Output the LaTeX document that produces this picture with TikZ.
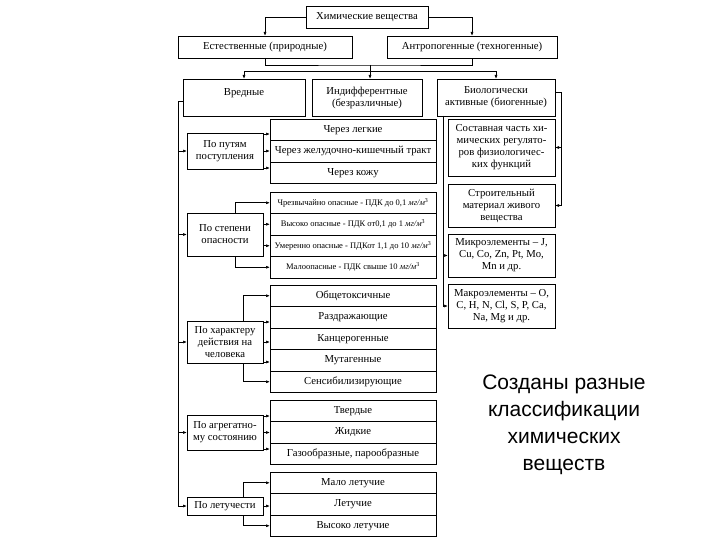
\documentclass[tikz,border=0pt]{standalone}
\usepackage{fontspec}
\setmainfont{Liberation Serif}
\newfontfamily\notefont{Liberation Sans}
\usetikzlibrary{arrows.meta, positioning}
\tikzset{
    block/.style={rectangle, draw, align=center, inner sep=1pt, outer sep=0pt, anchor=north west, font=\fontsize{10.7}{12}\selectfont},
    groupbox/.style={block, minimum width=76pt},
    rowbox/.style={block, minimum width=166pt, minimum height=21.5pt},
    smallrow/.style={rowbox, font=\fontsize{8.5}{10}\selectfont},
    biobox/.style={block, minimum width=107pt},
    arrow/.style={-{Latex[length=4pt,width=3pt]}},
}
\newcommand{\mgm}{\textit{мг/м}\textsuperscript{3}}

\begin{document}
\begin{tikzpicture}[x=1pt, y=-1pt, line width=0.7pt, node distance=0pt]
    \useasboundingbox (0,0) rectangle (720,540);

    % Top levels
    \node[block, minimum width=122pt, minimum height=22pt] (chem) at (306,6) {Химические вещества};
    \node[block, minimum width=174pt, minimum height=22pt] (natural) at (178,36) {Естественные (природные)};
    \node[block, minimum width=170pt, minimum height=22pt] (anthro) at (387,36) {Антропогенные (техногенные)};
    \node[block, minimum width=122pt, minimum height=37pt] (harm) at (183,79) {Вредные\\~};
    \node[block, minimum width=110pt, minimum height=37pt] (indiff) at (312,79) {Индифферентные\\(безразличные)};
    \node[block, minimum width=118pt, minimum height=37pt] (bio) at (437,79) {Биологически\\активные (биогенные)};

    % Classification boxes
    \node[groupbox, minimum height=36pt] (route) at (187,133) {По путям\\поступления};
    \node[groupbox, minimum height=43pt] (danger) at (187,213) {По степени\\опасности};
    \node[groupbox, minimum height=42pt] (effect) at (187,321) {По характеру\\действия на\\человека};
    \node[groupbox, minimum height=35pt] (state) at (187,415) {По агрегатно-\\му состоянию};
    \node[groupbox, minimum height=18pt] (volat) at (187,497) {По летучести};

    % Rows
    \node[rowbox] (route1) at (270,119) {Через легкие};
    \node[rowbox, below=of route1] (route2) {Через желудочно-кишечный тракт};
    \node[rowbox, below=of route2] (route3) {Через кожу};

    \node[smallrow] (danger1) at (270,192) {Чрезвычайно опасные - ПДК до 0,1 \mgm};
    \node[smallrow, below=of danger1] (danger2) {Высоко опасные - ПДК от0,1 до 1 \mgm};
    \node[smallrow, below=of danger2] (danger3) {Умеренно опасные - ПДКот 1,1 до 10 \mgm};
    \node[smallrow, below=of danger3] (danger4) {Малоопасные - ПДК свыше 10 \mgm};

    \node[rowbox] (effect1) at (270,285) {Общетоксичные};
    \node[rowbox, below=of effect1] (effect2) {Раздражающие};
    \node[rowbox, below=of effect2] (effect3) {Канцерогенные};
    \node[rowbox, below=of effect3] (effect4) {Мутагенные};
    \node[rowbox, below=of effect4] (effect5) {Сенсибилизирующие};

    \node[rowbox] (state1) at (270,400) {Твердые};
    \node[rowbox, below=of state1] (state2) {Жидкие};
    \node[rowbox, below=of state2] (state3) {Газообразные, парообразные};

    \node[rowbox] (volat1) at (270,472) {Мало летучие};
    \node[rowbox, below=of volat1] (volat2) {Летучие};
    \node[rowbox, below=of volat2] (volat3) {Высоко летучие};

    % Biogenic column
    \node[biobox, minimum height=57pt] (bioA) at (448,119) {Составная часть хи-\\мических регулято-\\ров физиологичес-\\ких функций};
    \node[biobox, minimum height=43pt] (bioB) at (448,184) {Строительный\\материал живого\\вещества};
    \node[biobox, minimum height=43pt] (bioC) at (448,234) {Микроэлементы -- J,\\Cu, Co, Zn, Pt, Mo,\\Mn и др.};
    \node[biobox, minimum height=44pt] (bioD) at (448,284) {Макроэлементы -- O,\\C, H, N, Cl, S, P, Ca,\\Na, Mg и др.};

    \node[font=\notefont\fontsize{21}{27}\selectfont, align=center] (summary) at (564,425) {Созданы разные\\классификации\\химических\\веществ};

    % Arrows
    \coordinate (join) at (370,65);
    \coordinate (split) at (370,71);
    \coordinate (spine) at (178,0);
    \coordinate (bioleft) at (443,0);
    \coordinate (bioright) at (561,0);

    \draw[arrow] (chem.west) -| (natural.north);
    \draw[arrow] (chem.east) -| (anthro.north);
    \draw (natural.south) |- (join) -| (anthro.south);
    \draw (join) -- (split);
    \draw[arrow] (split) -| (harm.north);
    \draw[arrow] (split) -| (bio.north);
    \draw[arrow] (split) -- (split |- indiff.north);

    \draw ([yshift=-4pt]harm.west) -| (spine |- volat.west);
    \foreach \n in {route, danger, effect, state, volat}
        \draw[arrow] (spine |- \n.west) -- (\n.west);

    \draw[arrow] ([yshift=-1pt]route.north east) -- ([yshift=-1pt]route.north east -| route1.west);
    \draw[arrow] (route.east) -- (route.east -| route2.west);
    \draw[arrow] ([yshift=1pt]route.south east) -- ([yshift=1pt]route.south east -| route3.west);

    \draw[arrow] ([xshift=-28pt]danger.north east) |- (danger1.west);
    \draw[arrow] (danger.east |- danger2.west) -- (danger2.west);
    \draw[arrow] (danger.east |- danger3.west) -- (danger3.west);
    \draw[arrow] ([xshift=-28pt]danger.south east) |- (danger4.west);

    \draw[arrow] ([xshift=-20pt]effect.north east) |- (effect1.west);
    \draw[arrow] ([yshift=-1pt]effect.north east) -- ([yshift=-1pt]effect.north east -| effect2.west);
    \draw[arrow] (effect.east) -- (effect.east -| effect3.west);
    \draw[arrow] ([yshift=1pt]effect.south east) -- ([yshift=1pt]effect.south east -| effect4.west);
    \draw[arrow] ([xshift=-20pt]effect.south east) |- (effect5.west);

    \draw[arrow] ([yshift=-1pt]state.north east) -- ([yshift=-1pt]state.north east -| state1.west);
    \draw[arrow] (state.east) -- (state.east -| state2.west);
    \draw[arrow] ([yshift=1pt]state.south east) -- ([yshift=1pt]state.south east -| state3.west);

    \draw[arrow] ([xshift=-20pt]volat.north east) |- (volat1.west);
    \draw[arrow] (volat.east) -- (volat.east -| volat2.west);
    \draw[arrow] ([xshift=-20pt]volat.south east) |- (volat3.west);

    \draw[arrow] (bio.south -| bioleft) |- (bioC.west);
    \draw[arrow] (bio.south -| bioleft) |- (bioD.west);
    \draw[arrow] ([yshift=5pt]bio.east) -| (bioright |- bioA.east) -- (bioA.east);
    \draw[arrow] ([yshift=5pt]bio.east) -| (bioright |- bioB.east) -- (bioB.east);

\end{tikzpicture}
\end{document}
